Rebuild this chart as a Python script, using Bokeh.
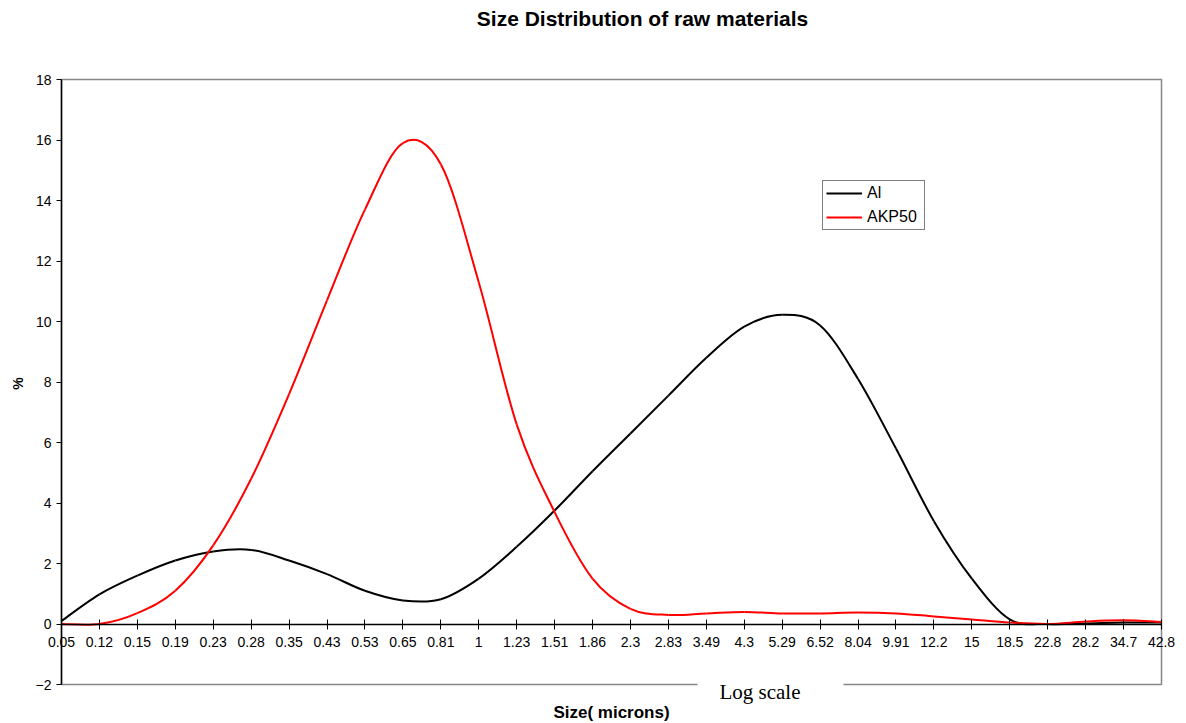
import math
from bokeh.plotting import figure
from bokeh.models import Range1d, FixedTicker, LinearAxis, Label, Legend
from bokeh.embed import file_html
from bokeh.resources import INLINE

# ---- data ----
sizes = ["0.05", "0.12", "0.15", "0.19", "0.23", "0.28", "0.35", "0.43", "0.53", "0.65",
         "0.81", "1", "1.23", "1.51", "1.86", "2.3", "2.83", "3.49", "4.3", "5.29",
         "6.52", "8.04", "9.91", "12.2", "15", "18.5", "22.8", "28.2", "34.7", "42.8"]
al = [0.1, 0.98, 1.6, 2.1, 2.4, 2.45, 2.1, 1.65, 1.1, 0.78,
      0.82, 1.5, 2.55, 3.75, 5.05, 6.3, 7.55, 8.8, 9.83, 10.22,
      9.87, 8.1, 5.8, 3.4, 1.5, 0.15, 0.0, 0.02, 0.05, 0.05]
akp50 = [0.0, 0.0, 0.36, 1.1, 2.6, 4.8, 7.6, 10.7, 13.7, 15.9,
         15.2, 11.3, 6.6, 3.7, 1.5, 0.5, 0.3, 0.35, 0.4, 0.35,
         0.35, 0.38, 0.35, 0.25, 0.15, 0.05, 0.0, 0.08, 0.12, 0.07]
y_ticks = [-2, 0, 2, 4, 6, 8, 10, 12, 14, 16, 18]

FONT = "Liberation Sans"
W, H = 1186, 723
# plotting box in canvas pixels
PL, PR, PT, PB = 61, 1161, 79, 684
x_lo, x_hi = 0, len(sizes) - 1
y_lo, y_hi = min(y_ticks), max(y_ticks)
sx = (PR - PL) / (x_hi - x_lo)
sy = (PB - PT) / (y_hi - y_lo)


def px2x(px):
    return x_lo + (px - PL) / sx


def px2y(py):
    return y_lo + (PB - py) / sy


def smooth_segments(vals):
    """Bezier segments (Catmull-Rom style) passing through every data point."""
    n = len(vals)
    xs = list(range(n))
    d = dict(x0=[], y0=[], x1=[], y1=[], cx0=[], cy0=[], cx1=[], cy1=[])
    for i in range(n - 1):
        im1 = max(i - 1, 0)
        ip2 = min(i + 2, n - 1)
        d["x0"].append(xs[i]); d["y0"].append(vals[i])
        d["x1"].append(xs[i + 1]); d["y1"].append(vals[i + 1])
        d["cx0"].append(xs[i] + (xs[i + 1] - xs[im1]) / 6.0)
        d["cy0"].append(vals[i] + (vals[i + 1] - vals[im1]) / 6.0)
        d["cx1"].append(xs[i + 1] - (xs[ip2] - xs[i]) / 6.0)
        d["cy1"].append(vals[i + 1] - (vals[ip2] - vals[i]) / 6.0)
    return d


p = figure(width=W, height=H, output_backend="svg", toolbar_location=None,
           x_range=Range1d(px2x(0), px2x(W)), y_range=Range1d(px2y(H), px2y(0)),
           x_axis_location=None, y_axis_location=None,
           min_border=0, min_border_left=0, min_border_right=0,
           min_border_top=0, min_border_bottom=0)
p.title.visible = False
p.grid.visible = False
p.background_fill_color = "white"
p.border_fill_color = "white"
p.outline_line_color = None

# plot-area border (gray)
p.quad(left=[x_lo], right=[x_hi], bottom=[y_lo], top=[y_hi],
       fill_color=None, line_color="#868686", line_width=1.5)

# y axis at x = first category
yax = LinearAxis(ticker=FixedTicker(ticks=y_ticks))
yax.fixed_location = x_lo
yax.bounds = (y_lo, y_hi)
yax.axis_line_color = "black"
yax.axis_line_width = 1.5
yax.major_tick_in = 0
yax.major_tick_out = 5
yax.major_tick_line_color = "black"
yax.minor_tick_line_color = None
yax.major_label_text_font = FONT
yax.major_label_text_font_size = "14px"
yax.major_label_text_color = "black"
yax.major_label_standoff = 5
p.add_layout(yax, "left")

# x axis crossing at y = 0
xax = LinearAxis(ticker=FixedTicker(ticks=list(range(len(sizes)))))
xax.major_label_overrides = {i: s for i, s in enumerate(sizes)}
xax.fixed_location = 0
xax.bounds = (x_lo, x_hi)
xax.axis_line_color = "black"
xax.axis_line_width = 1.5
xax.major_tick_in = 5
xax.major_tick_out = 5
xax.major_tick_line_color = "black"
xax.minor_tick_line_color = None
xax.major_label_text_font = FONT
xax.major_label_text_font_size = "14px"
xax.major_label_text_color = "black"
xax.major_label_standoff = 8
p.add_layout(xax, "below")

seg_al = smooth_segments(al)
seg_akp = smooth_segments(akp50)
r1 = p.bezier(source=seg_al, x0="x0", y0="y0", x1="x1", y1="y1",
              cx0="cx0", cy0="cy0", cx1="cx1", cy1="cy1",
              line_color="black", line_width=2)
r2 = p.bezier(source=seg_akp, x0="x0", y0="y0", x1="x1", y1="y1",
              cx0="cx0", cy0="cy0", cx1="cx1", cy1="cy1",
              line_color="#ff0000", line_width=2)

legend = Legend(items=[("Al", [r1]), ("AKP50", [r2])], location=(822, H - 230))
legend.label_text_font = FONT
legend.label_text_font_size = "16px"
legend.label_text_color = "black"
legend.glyph_width = 36
legend.glyph_height = 16
legend.label_height = 16
legend.label_width = 54
legend.label_standoff = 5
legend.spacing = 6
legend.padding = 3
legend.margin = 0
legend.border_line_color = "black"
legend.border_line_width = 1
legend.background_fill_color = "white"
legend.background_fill_alpha = 1
p.add_layout(legend, "center")

# texts
p.add_layout(Label(x=px2x(642), y=px2y(18), text="Size Distribution of raw materials",
                   text_align="center", text_baseline="middle", text_font=FONT,
                   text_font_size="21px", text_font_style="bold", text_color="black"))
p.add_layout(Label(x=px2x(611), y=px2y(712), text="Size( microns)",
                   text_align="center", text_baseline="middle", text_font=FONT,
                   text_font_size="17px", text_font_style="bold", text_color="black"))
p.add_layout(Label(x=px2x(17), y=px2y(383), text="%", angle=math.pi / 2,
                   text_align="center", text_baseline="middle", text_font=FONT,
                   text_font_size="14px", text_font_style="bold", text_color="black"))

lbl = Label(x=px2x(770), y=px2y(691), text="Log scale", text_align="center",
            text_baseline="middle", text_font="Liberation Serif", text_font_size="21px",
            text_color="black", background_fill_color="white", background_fill_alpha=1)
try:
    lbl.padding = dict(left=22, right=43, top=1, bottom=1)
except Exception:
    lbl.padding = 2
p.add_layout(lbl)

open("out.html", "w").write(file_html(p, INLINE))
